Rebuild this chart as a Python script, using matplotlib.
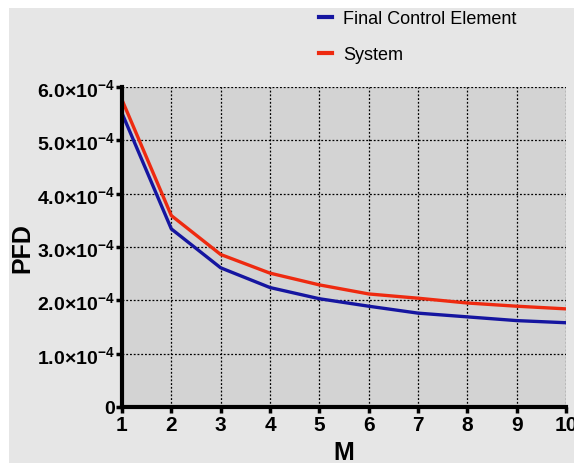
import matplotlib.pyplot as plt
from matplotlib.patches import Rectangle
from matplotlib.ticker import FuncFormatter

plt.rcParams['font.family'] = 'Liberation Sans'
plt.rcParams['font.weight'] = 'bold'
plt.rcParams['mathtext.fontset'] = 'custom'
plt.rcParams['mathtext.rm'] = 'Liberation Sans:bold'
plt.rcParams['mathtext.bf'] = 'Liberation Sans:bold'
plt.rcParams['mathtext.default'] = 'rm'

m_values = [1, 2, 3, 4, 5, 6, 7, 8, 9, 10]
pfd_fce = [5.51e-4, 3.34e-4, 2.61e-4, 2.24e-4, 2.03e-4, 1.89e-4, 1.76e-4, 1.69e-4, 1.62e-4, 1.58e-4]
pfd_system = [5.76e-4, 3.59e-4, 2.86e-4, 2.51e-4, 2.29e-4, 2.12e-4, 2.04e-4, 1.95e-4, 1.89e-4, 1.84e-4]
y_ticks = [0, 1e-4, 2e-4, 3e-4, 4e-4, 5e-4, 6e-4]

fig = plt.figure(figsize=(5.74, 4.64), dpi=100, facecolor='white')
# grey panel behind the chart, leaving a thin white margin top and left
fig.patches.append(Rectangle((9 / 574, 0), 1, 1 - 9 / 464, transform=fig.transFigure,
                             facecolor='#e6e6e6', edgecolor='none', zorder=-10))

ax = fig.add_axes([0.2125, 0.1207, 0.7735, 0.6896])
ax.set_facecolor('#d3d3d3')

ax.plot(m_values, pfd_fce, color='#1515a0', lw=2.4, label='Final Control Element', zorder=3)
ax.plot(m_values, pfd_system, color='#ee2a10', lw=2.4, label='System', zorder=3)

ax.set_xlim(1, 10)
ax.set_ylim(0, 6e-4)
ax.set_xticks(m_values)
ax.set_yticks(y_ticks)


def sci_fmt(v, pos):
    if v == 0:
        return '0'
    return r'$%.1f{\times}10^{-4}$' % (v / 1e-4)


ax.yaxis.set_major_formatter(FuncFormatter(sci_fmt))
ax.tick_params(axis='both', width=2.5, length=4, direction='out', colors='black')
ax.tick_params(axis='y', labelsize=14, pad=1)
ax.tick_params(axis='x', labelsize=15, pad=2)

ax.grid(True, color='black', linestyle=(0, (1.5, 1.5)), linewidth=0.9, zorder=1)
for side in ['top', 'right']:
    ax.spines[side].set_visible(False)
for side in ['left', 'bottom']:
    ax.spines[side].set_linewidth(3)
    ax.spines[side].set_zorder(4)

ax.set_xlabel('M', fontsize=18, fontweight='bold', labelpad=4)
ax.set_ylabel('PFD', fontsize=18, fontweight='bold', labelpad=2)

leg = ax.legend(loc='lower left', bbox_to_anchor=(0.42, 1.04), frameon=False,
                handlelength=0.7, handletextpad=0.6, labelspacing=1.05,
                borderaxespad=0.2,
                prop={'family': 'Liberation Sans', 'weight': 'normal', 'size': 13})
for line in leg.get_lines():
    line.set_linewidth(3)

fig.savefig('out.png', dpi=100, facecolor=fig.get_facecolor())
